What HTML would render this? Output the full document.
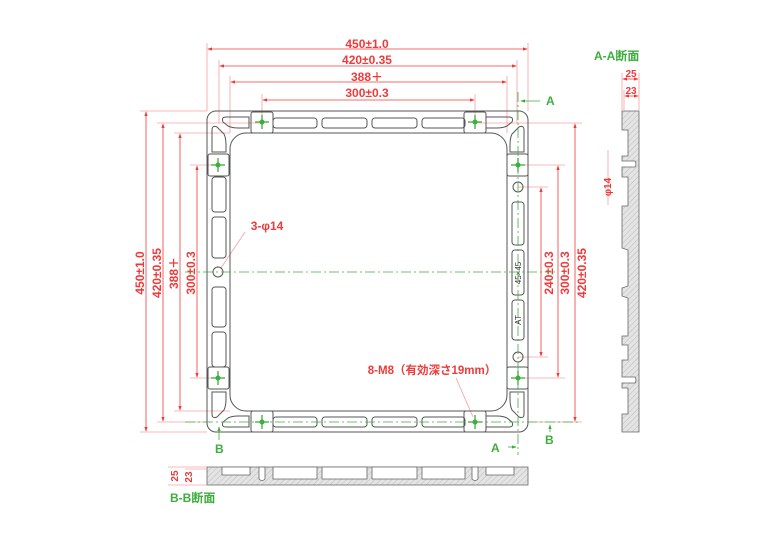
<!DOCTYPE html>
<html><head><meta charset="utf-8"><style>
html,body{margin:0;padding:0;background:#fff}
svg{display:block}
text{font-family:"Liberation Sans","Noto Sans CJK JP",sans-serif;font-weight:bold}
.r{fill:#f03a3a;font-size:12px}
.g{fill:#3cae3c;font-size:12px}
</style></head><body>
<svg width="768" height="543" viewBox="0 0 768 543" xmlns="http://www.w3.org/2000/svg">
<defs>
<pattern id="h" width="4" height="4" patternUnits="userSpaceOnUse" patternTransform="rotate(45)">
<rect width="4" height="4" fill="#e4e4e4"/><line x1="0" y1="0" x2="0" y2="4" stroke="#bbb" stroke-width="1"/></pattern>
<marker id="a" markerWidth="6" markerHeight="6" refX="5" refY="3" orient="auto-start-reverse"><path d="M0,1 L6,3 L0,5z" fill="#f03a3a"/></marker>
<marker id="ag" markerWidth="6" markerHeight="6" refX="5" refY="3" orient="auto"><path d="M0,1 L6,3 L0,5z" fill="#3cae3c"/></marker>
<g id="b"><line x1="-7" y1="0" x2="7" y2="0"/><line x1="0" y1="-7" x2="0" y2="7"/><circle r="2.5" stroke="none"/></g>
</defs>

<!-- extension lines (light red) -->
<g stroke="#f7a0a0" stroke-width="0.8" fill="none">
<line x1="207" y1="43" x2="207" y2="111"/><line x1="528" y1="43" x2="528" y2="111"/>
<line x1="219" y1="60" x2="219" y2="123"/><line x1="517" y1="60" x2="517" y2="123"/>
<line x1="230" y1="76" x2="230" y2="133"/><line x1="507" y1="76" x2="507" y2="133"/>
<line x1="262" y1="94" x2="262" y2="123"/><line x1="475" y1="94" x2="475" y2="123"/>
<line x1="140" y1="111" x2="207" y2="111"/><line x1="140" y1="432" x2="207" y2="432"/>
<line x1="157" y1="123" x2="262" y2="123"/><line x1="157" y1="422" x2="210" y2="422"/>
<line x1="174" y1="133" x2="230" y2="133"/><line x1="174" y1="411" x2="230" y2="411"/>
<line x1="190" y1="165" x2="219" y2="165"/><line x1="190" y1="378" x2="219" y2="378"/>
<line x1="475" y1="123" x2="582" y2="123"/><line x1="528" y1="422" x2="582" y2="422"/>
<line x1="518" y1="165" x2="565" y2="165"/><line x1="518" y1="378" x2="565" y2="378"/>
<line x1="518" y1="187" x2="548" y2="187"/><line x1="518" y1="357" x2="548" y2="357"/>
<line x1="245" y1="232" x2="221" y2="268"/><line x1="456" y1="378" x2="473" y2="417"/>
<line x1="608" y1="150" x2="608" y2="205"/>
</g>

<!-- dimension lines -->
<g stroke="#f03a3a" stroke-width="0.8" fill="none" marker-start="url(#a)" marker-end="url(#a)">
<line x1="208" y1="49" x2="527" y2="49"/>
<line x1="220" y1="66" x2="516" y2="66"/>
<line x1="231" y1="82" x2="506" y2="82"/>
<line x1="263" y1="100" x2="474" y2="100"/>
<line x1="146" y1="112" x2="146" y2="431"/>
<line x1="163" y1="124" x2="163" y2="421"/>
<line x1="180" y1="134" x2="180" y2="410"/>
<line x1="197" y1="166" x2="197" y2="377"/>
<line x1="541" y1="188" x2="541" y2="356"/>
<line x1="558" y1="166" x2="558" y2="377"/>
<line x1="575" y1="124" x2="575" y2="421"/>
</g>

<!-- dim texts -->
<g class="r" text-anchor="middle">
<text x="367" y="48">450±1.0</text>
<text x="367" y="64">420±0.35</text>
<text x="367" y="81">388＋</text>
<text x="367" y="97">300±0.3</text>
<text transform="translate(144,273) rotate(-90)">450±1.0</text>
<text transform="translate(161,273) rotate(-90)">420±0.35</text>
<text transform="translate(178,273) rotate(-90)">388＋</text>
<text transform="translate(195,273) rotate(-90)">300±0.3</text>
<text transform="translate(553,273) rotate(-90)">240±0.3</text>
<text transform="translate(569,273) rotate(-90)">300±0.3</text>
<text transform="translate(586,273) rotate(-90)">420±0.35</text>
<text x="267" y="230">3-φ14</text>
<text x="432" y="374" style="font-size:11.5px">8-M8（有効深さ19mm）</text>
</g>

<!-- frame -->
<g stroke="#555" stroke-width="1" fill="none">
<rect x="207" y="111" width="321" height="321" rx="9"/>
<rect x="230" y="133" width="277" height="278" rx="16"/>
<rect x="273" y="118" width="44" height="10" rx="3"/>
<rect x="322" y="118" width="45" height="10" rx="3"/>
<rect x="372" y="118" width="45" height="10" rx="3"/>
<rect x="422" y="118" width="43" height="10" rx="3"/>
<rect x="273" y="417" width="44" height="10" rx="3"/>
<rect x="322" y="417" width="45" height="10" rx="3"/>
<rect x="372" y="417" width="45" height="10" rx="3"/>
<rect x="422" y="417" width="43" height="10" rx="3"/>
<rect x="212" y="177" width="14" height="35" rx="3"/>
<rect x="212" y="217" width="14" height="41" rx="3"/>
<rect x="212" y="287" width="14" height="40" rx="3"/>
<rect x="212" y="332" width="14" height="35" rx="3"/>
<circle cx="218" cy="272" r="5"/>
<rect x="512" y="202" width="12" height="43" rx="3"/>
<rect x="512" y="250" width="12" height="45" rx="3"/>
<rect x="512" y="300" width="12" height="40" rx="3"/>
<circle cx="518" cy="187" r="5"/><circle cx="518" cy="357" r="5"/>
<rect x="251" y="112" width="22" height="21" rx="2"/>
<rect x="464" y="112" width="22" height="21" rx="2"/>
<rect x="251" y="411" width="22" height="21" rx="2"/>
<rect x="464" y="411" width="22" height="21" rx="2"/>
<rect x="208" y="154" width="21" height="22" rx="2"/>
<rect x="208" y="367" width="21" height="22" rx="2"/>
<rect x="507" y="154" width="21" height="22" rx="2"/>
<rect x="507" y="367" width="21" height="22" rx="2"/>
<path d="M226,117 H249 V128 H238 Q232,128 228,126 L223,122 Q221,117 226,117Z"/>
<path d="M212,130 Q212,125 217,127 L224,134 Q226,138 226,145 V152 H212Z"/>
<path d="M509,117 H486 V128 H497 Q503,128 507,126 L512,122 Q514,117 509,117Z"/>
<path d="M524,130 Q524,125 519,127 L512,134 Q510,138 510,145 V152 H524Z"/>
<path d="M226,427 H249 V416 H238 Q232,416 228,418 L223,422 Q221,427 226,427Z"/>
<path d="M212,414 Q212,419 217,417 L224,410 Q226,406 226,399 V392 H212Z"/>
<path d="M509,427 H486 V416 H497 Q503,416 507,418 L512,422 Q514,427 509,427Z"/>
<path d="M524,414 Q524,419 519,417 L512,410 Q510,406 510,399 V392 H524Z"/>
</g>
<g style="font-size:8px" fill="#333" text-anchor="middle">
<text transform="translate(521,273) rotate(-90)" style="font-weight:normal">45×45</text>
<text transform="translate(521,320) rotate(-90)" style="font-weight:normal">AT</text>
</g>

<!-- centerlines -->
<g stroke="#3cae3c" stroke-width="0.8" fill="none" stroke-dasharray="10,3,2,3">
<line x1="185" y1="272" x2="555" y2="272"/>
<line x1="185" y1="422" x2="580" y2="422"/>
<line x1="518" y1="92" x2="518" y2="455"/>
</g>
<g stroke="#3cae3c" stroke-width="1.3" fill="#3cae3c">
<use href="#b" x="262" y="122"/><use href="#b" x="475" y="122"/>
<use href="#b" x="262" y="422"/><use href="#b" x="475" y="422"/>
<use href="#b" x="218" y="165"/><use href="#b" x="218" y="378"/>
<use href="#b" x="518" y="165"/><use href="#b" x="518" y="378"/>
</g>

<!-- section markers -->
<g stroke="#3cae3c" stroke-width="0.8" fill="none">
<line x1="540" y1="101" x2="521" y2="101" marker-end="url(#ag)"/>
<line x1="508" y1="447" x2="516" y2="447" marker-end="url(#ag)"/>
<line x1="219" y1="440" x2="219" y2="427" marker-end="url(#ag)"/>
<line x1="550" y1="432" x2="550" y2="425" marker-end="url(#ag)"/>
</g>
<g class="g">
<text x="546" y="105">A</text>
<text x="491" y="452">A</text>
<text x="215" y="453">B</text>
<text x="545" y="444">B</text>
<text x="594" y="60">A-A断面</text>
<text x="170" y="502">B-B断面</text>
</g>

<!-- A-A section -->
<path d="M622,111 H639 V432 H622 V414 H628 V388 H622 V383 H635 Q637,380 635,377 H622 V360 H628 V345 H622 V336 H628 V298 L622,296 V288 L628,286 V250 L622,248 V206 H628 V177 H622 V167 H635 Q637,164 635,161 H622 V156 H628 V130 H622Z" fill="url(#h)" stroke="#666" stroke-width="0.8"/>
<g stroke="#f7a0a0" stroke-width="0.8"><line x1="622" y1="73" x2="622" y2="110"/><line x1="639" y1="73" x2="639" y2="110"/><line x1="624" y1="90" x2="624" y2="110"/></g>
<g stroke="#f03a3a" stroke-width="0.8" marker-start="url(#a)" marker-end="url(#a)"><line x1="623" y1="79" x2="638" y2="79"/><line x1="625" y1="96" x2="638" y2="96"/></g>
<g class="r" text-anchor="middle" style="font-size:10px"><text x="631" y="77">25</text><text x="631" y="94">23</text>
<text transform="translate(611,187) rotate(-90)">φ14</text></g>

<!-- B-B section -->
<path d="M207,467 H528 V485 H207Z" fill="url(#h)" stroke="#666" stroke-width="0.8"/>
<g stroke="#666" stroke-width="0.8" fill="#fff">
<path d="M222,467 V475 H250 V467Z"/><path d="M259,467 V479 Q262,482 265,479 V467Z"/>
<path d="M273,467 V479 H317 V467Z"/><path d="M322,467 V479 H367 V467Z"/><path d="M372,467 V479 H417 V467Z"/><path d="M422,467 V479 H465 V467Z"/>
<path d="M472,467 V479 Q475,482 478,479 V467Z"/><path d="M486,467 V475 H514 V467Z"/>
</g>
<g stroke="#f7a0a0" stroke-width="0.8"><line x1="168" y1="467" x2="207" y2="467"/><line x1="168" y1="485" x2="207" y2="485"/><line x1="185" y1="469" x2="207" y2="469"/></g>
<g class="r" text-anchor="middle" style="font-size:10px"><text transform="translate(178,476) rotate(-90)">25</text><text transform="translate(192,477) rotate(-90)">23</text></g>
</svg>
</body></html>
